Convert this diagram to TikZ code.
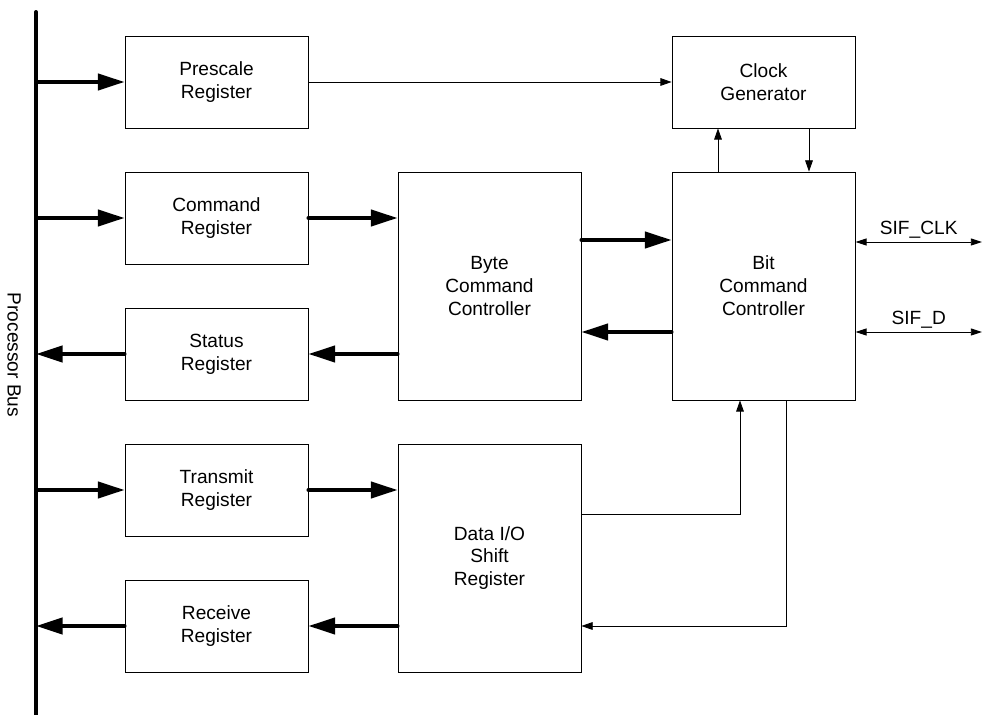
\documentclass[tikz,border=0pt]{standalone}
\usepackage{fontspec}
\setmainfont{Liberation Sans}
\usetikzlibrary{arrows.meta}

\begin{document}
\begin{tikzpicture}[x=0.025cm,y=-0.025cm,
  every node/.style={font=\fontsize{13.6pt}{16.3pt}\selectfont,align=center},
  blk/.style={draw,rectangle,line width=0.6pt,inner sep=0pt,minimum width=183*0.025cm},
  small/.style={blk,minimum height=92*0.025cm},
  tall/.style={blk,minimum height=228*0.025cm},
  fat/.style={line width=2.8pt,line cap=round,-{Triangle[length=19pt,width=11.5pt]}},
  thin/.style={line width=0.6pt,-{Triangle[length=8pt,width=5.5pt]}},
  both/.style={line width=0.7pt,{Triangle[length=8pt,width=5pt]}-{Triangle[length=8pt,width=5pt]}}]
\useasboundingbox (0,0) rectangle (982,715);
% bus
\coordinate (bt) at (36,12);
\coordinate (bb) at (36,718);
\draw[line width=2.8pt,line cap=round] (bt) -- (bb);
\node[rotate=-90] (lbl) at (14,355) {Processor Bus};
% registers
\node[small] (pre) at (216.5,82) {Prescale\\Register};
\node[small] (cmd) at (216.5,218) {Command\\Register};
\node[small] (sta) at (216.5,354) {Status\\Register};
\node[small] (tx) at (216.5,490) {Transmit\\Register};
\node[small] (rx) at (216.5,626) {Receive\\Register};
% controllers
\node[tall] (byte) at (489.5,286) {Byte\\Command\\Controller};
\node[tall] (dio) at (489.5,558) {Data I/O\\Shift\\Register};
\node[small] (clk) at (763.5,82) {Clock\\Generator};
\node[tall] (bit) at (763.5,286) {Bit\\Command\\Controller};
% bus arrows
\draw[fat] (pre.west -| bt) -- (pre.west);
\draw[fat] (cmd.west -| bt) -- (cmd.west);
\draw[fat] (sta.west) -- (sta.west -| bt);
\draw[fat] (tx.west -| bt) -- (tx.west);
\draw[fat] (rx.west) -- (rx.west -| bt);
% data paths
\draw[fat] (cmd.east) -- (cmd.east -| byte.west);
\draw[fat] (sta.east -| byte.west) -- (sta.east);
\draw[fat] (tx.east) -- (tx.east -| dio.west);
\draw[fat] (rx.east -| dio.west) -- (rx.east);
\draw[fat] (byte.east |- 0,240) -- (bit.west |- 0,240);
\draw[fat] (bit.west |- 0,332) -- (byte.east |- 0,332);
% control lines
\draw[thin] (pre.east) -- (clk.west);
\draw[thin] (bit.north -| 718,0) -- (clk.south -| 718,0);
\draw[thin] (clk.south -| 809,0) -- (bit.north -| 809,0);
\draw[thin] (dio.east |- 0,514) -| (bit.south -| 740,0);
\draw[thin] (bit.south -| 786,0) |- (dio.east |- 0,626);
% serial pins
\coordinate (sc) at (982,242);
\coordinate (sd) at (982,332);
\draw[both] (bit.east |- sc) -- node[above=-1pt] {SIF\_CLK} (sc);
\draw[both] (bit.east |- sd) -- node[above=-1pt] {SIF\_D} (sd);
\end{tikzpicture}
\end{document}
